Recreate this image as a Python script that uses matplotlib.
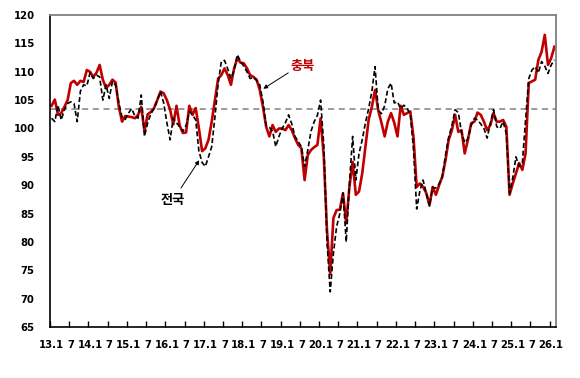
import numpy as np
import matplotlib.pyplot as plt

# monthly index, 2013.1 ~ 2026.2
chungbuk = [104.0, 105.1, 102.4, 102.7, 103.8, 105.0, 108.0, 108.4, 107.7, 108.4, 108.2, 110.3,
            110.0, 109.1, 109.8, 111.2, 108.6, 107.1, 107.7, 108.6, 108.1, 103.8, 101.2, 102.2,
            102.1, 102.0, 101.8, 102.4, 103.8, 99.5, 102.5, 102.9, 103.6, 105.0, 106.5, 106.2,
            105.0, 103.3, 100.7, 104.0, 100.5, 99.2, 99.3, 104.0, 102.4, 103.6, 100.0, 96.0,
            96.5, 98.0, 101.2, 105.0, 108.8, 109.4, 110.6, 109.4, 107.7, 110.6, 112.4, 111.6,
            111.5, 110.6, 109.4, 109.1, 108.6, 106.8, 103.8, 100.3, 98.6, 100.6, 99.4, 100.0,
            100.0, 99.7, 100.6, 99.7, 98.3, 97.1, 96.5, 90.9, 95.3, 96.2, 96.7, 97.1,
            101.8, 95.0, 82.0, 74.3, 84.2, 85.6, 85.7, 88.6, 83.3, 89.7, 94.1, 88.3,
            88.9, 92.1, 96.8, 101.5, 103.8, 106.8, 103.2, 101.0, 98.6, 101.2, 102.7, 101.0,
            98.6, 104.0, 102.4, 102.7, 103.0, 98.5, 89.7, 90.3, 89.7, 88.6, 86.5, 89.7,
            88.3, 90.0, 91.5, 94.4, 98.0, 99.7, 102.4, 99.4, 99.7, 95.6, 98.0, 100.9,
            101.2, 102.8, 102.4, 101.2, 99.7, 100.6, 102.7, 101.2, 101.2, 101.5, 100.3, 88.3,
            90.3, 92.1, 93.9, 92.7, 95.6, 108.0, 108.3, 108.6, 112.1, 113.5, 116.5, 111.2,
            112.4, 114.4]

national = [101.8, 101.2, 104.1, 101.5, 103.3, 104.4, 104.7, 104.4, 101.2, 106.6, 107.7, 107.5,
            109.8, 108.8, 109.4, 109.1, 105.0, 107.7, 105.3, 108.3, 107.6, 104.5, 102.0, 101.6,
            102.7, 103.5, 102.2, 101.8, 105.9, 98.6, 101.0, 102.6, 103.5, 105.0, 106.5, 104.5,
            101.0, 98.0, 101.8, 101.0, 100.3, 99.5, 100.5, 103.0, 102.4, 101.5, 96.0, 94.0,
            93.3, 95.0, 96.8, 102.0, 107.9, 111.8, 112.0, 110.5, 108.8, 110.3, 113.0, 111.8,
            111.0, 110.0, 108.8, 109.0, 108.5, 107.7, 104.7, 100.5, 100.2, 99.5, 96.8, 98.6,
            100.0, 101.0, 102.4, 100.8, 98.6, 97.7, 96.8, 93.3, 96.2, 99.5, 101.2, 102.3,
            105.0, 97.0, 80.0, 71.2, 78.0, 82.7, 85.0, 88.6, 80.0, 90.3, 98.6, 90.9,
            95.6, 98.0, 101.0, 103.5, 106.5, 110.9, 103.2, 102.6, 104.0, 107.0, 108.0, 104.5,
            104.7, 103.5, 104.1, 103.5, 102.5, 96.5, 85.8, 89.0, 90.9, 88.6, 86.3, 89.6,
            89.5, 90.2, 91.5, 95.3, 98.5, 100.5, 103.3, 102.8, 99.3, 97.5, 98.2, 100.5,
            101.8, 101.5, 100.8, 100.0, 98.3, 100.9, 103.3, 100.3, 100.0, 101.2, 99.1, 88.6,
            91.3, 95.0, 93.3, 93.9, 101.5, 108.8, 110.3, 110.9, 109.8, 111.8, 111.0, 109.7,
            111.2, 112.1]

baseline = 103.5

tick_labels = ['13.1', '7', '14.1', '7', '15.1', '7', '16.1', '7', '17.1', '7',
               '18.1', '7', '19.1', '7', '20.1', '7', '21.1', '7', '22.1', '7',
               '23.1', '7', '24.1', '7', '25.1', '7', '26.1']

kr_font = ['Noto Sans CJK KR', 'DejaVu Sans']
red = '#C00000'

x = np.arange(len(chungbuk))

fig = plt.figure(figsize=(5.8, 3.78), dpi=100)
ax = fig.add_axes([0.0862, 0.1349, 0.8724, 0.8254])

ax.axhline(baseline, color='#808080', lw=1.1, dashes=(4, 3), zorder=1)
ax.plot(x, chungbuk, color=red, lw=1.9, zorder=2)
ax.plot(x, national, color='black', lw=1.2, dashes=(3, 1.6), zorder=3)

ax.set_xlim(-0.5, len(chungbuk) - 0.5)
ax.set_ylim(65, 120)
ax.set_yticks(np.arange(65, 121, 5))

# tick marks on month boundaries, labels on the month itself
ax.set_xticks(np.arange(-0.5, 156, 6))
ax.set_xticklabels([])
ax.set_xticks(np.arange(0, 157, 6), minor=True)
ax.set_xticklabels(tick_labels, minor=True)
ax.tick_params(axis='x', which='major', direction='in', length=4, width=1, color='black')
ax.tick_params(axis='x', which='minor', length=0, pad=9)
ax.tick_params(axis='y', length=0, pad=11)

for lab in ax.get_xticklabels(minor=True) + ax.get_yticklabels():
    lab.set_fontweight('bold')
    lab.set_fontsize(7.3)
    lab.set_family('DejaVu Sans')

for side in ['left', 'bottom']:
    ax.spines[side].set_color('black')
    ax.spines[side].set_linewidth(1.2)
for side in ['top', 'right']:
    ax.spines[side].set_color('#7f7f7f')
    ax.spines[side].set_linewidth(1.3)

arrow = dict(arrowstyle='-|>', color='black', lw=0.7, mutation_scale=6, shrinkA=0, shrinkB=0)
ax.annotate('', xy=(66.1, 107.0), xytext=(73.9, 109.8), arrowprops=arrow)
ax.text(78.3, 111.0, '충북', color=red, fontsize=9.5, fontweight='bold',
        family=kr_font, ha='center', va='center')
ax.annotate('', xy=(46.1, 94.4), xytext=(40.4, 89.5), arrowprops=arrow)
ax.text(37.9, 87.4, '전국', color='black', fontsize=9.5, fontweight='bold',
        family=kr_font, ha='center', va='center')

fig.savefig('out.png', dpi=100)
